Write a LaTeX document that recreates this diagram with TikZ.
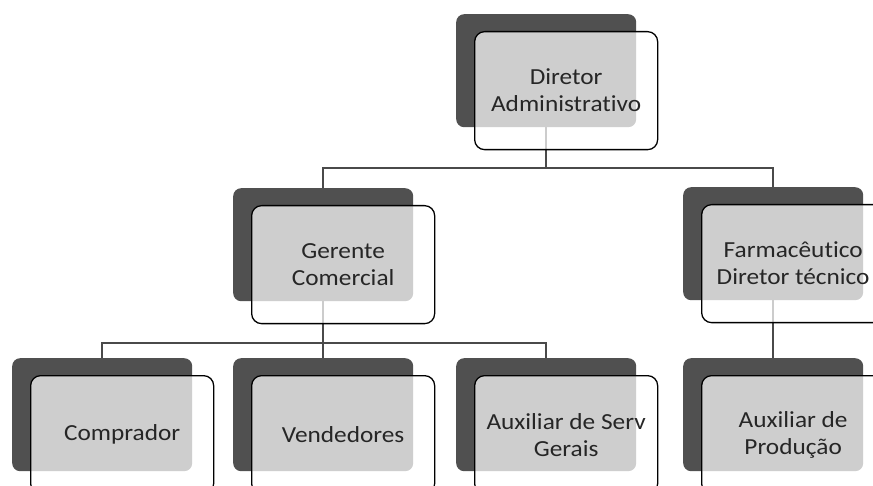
\documentclass[tikz,border=0pt]{standalone}
\usepackage{fontspec}
\setmainfont{Carlito}[FakeStretch=1.1,Ligatures=NoCommon]
\definecolor{darkbox}{HTML}{505050}
\definecolor{linegray}{HTML}{4A4A4A}
\definecolor{textgray}{HTML}{262626}
\pgfdeclarelayer{bg}
\pgfsetlayers{bg,main}
\tikzset{
  backbox/.style={draw=none, fill=darkbox, rounded corners=8pt, minimum width=180pt, minimum height=113pt, anchor=north west, inner sep=0pt},
  frontbox/.style={draw=black, line width=1.3pt, fill=white, fill opacity=0.72, text opacity=1, draw opacity=1, rounded corners=10pt, minimum width=183pt, minimum height=118pt, anchor=north west, align=center, font=\fontsize{23}{27}\selectfont, text=textgray, inner sep=0pt},
  link/.style={draw=linegray, line width=1.8pt}
}
\begin{document}
\begin{tikzpicture}[x=1pt,y=-1pt]
\useasboundingbox (0,0) rectangle (873,486);
\clip (0,0) rectangle (873,486);
% back boxes
\node[backbox] (dirb)  at (456,14)  {};
\node[backbox] (gerb)  at (233,188) {};
\node[backbox] (farmb) at (683,187) {};
\node[backbox] (compb) at (12,358)  {};
\node[backbox] (vendb) at (233,358) {};
\node[backbox] (servb) at (456,358) {};
\node[backbox] (prodb) at (683,358) {};
% front boxes
\node[frontbox] (dir)  at (474,31)  {Diretor\\Administrativo};
\node[frontbox] (ger)  at (251,205) {Gerente\\Comercial};
\node[frontbox] (farm) at (701,204) {Farmacêutico\\Diretor técnico};
\node[frontbox] (comp) at (30,375)  {Comprador};
\node[frontbox] (vend) at (251,375) {Vendedores};
\node[frontbox] (serv) at (474,375) {Auxiliar de Serv\\Gerais};
\node[frontbox] (prod) at (701,375) {Auxiliar de\\Produção};
% connectors
\begin{pgfonlayer}{bg}
\draw[link] (dirb.south) -- ++(0,41) -| (gerb.north);
\draw[link] (dirb.south) -- ++(0,41) -| (farmb.north);
\draw[link] (gerb.south) -- ++(0,42) -| (compb.north);
\draw[link] (gerb.south) -- ++(0,42) -| (servb.north);
\draw[link] (gerb.south) -- (vendb.north);
\draw[link] (farmb.south) -- (prodb.north);
\end{pgfonlayer}
\end{tikzpicture}
\end{document}
